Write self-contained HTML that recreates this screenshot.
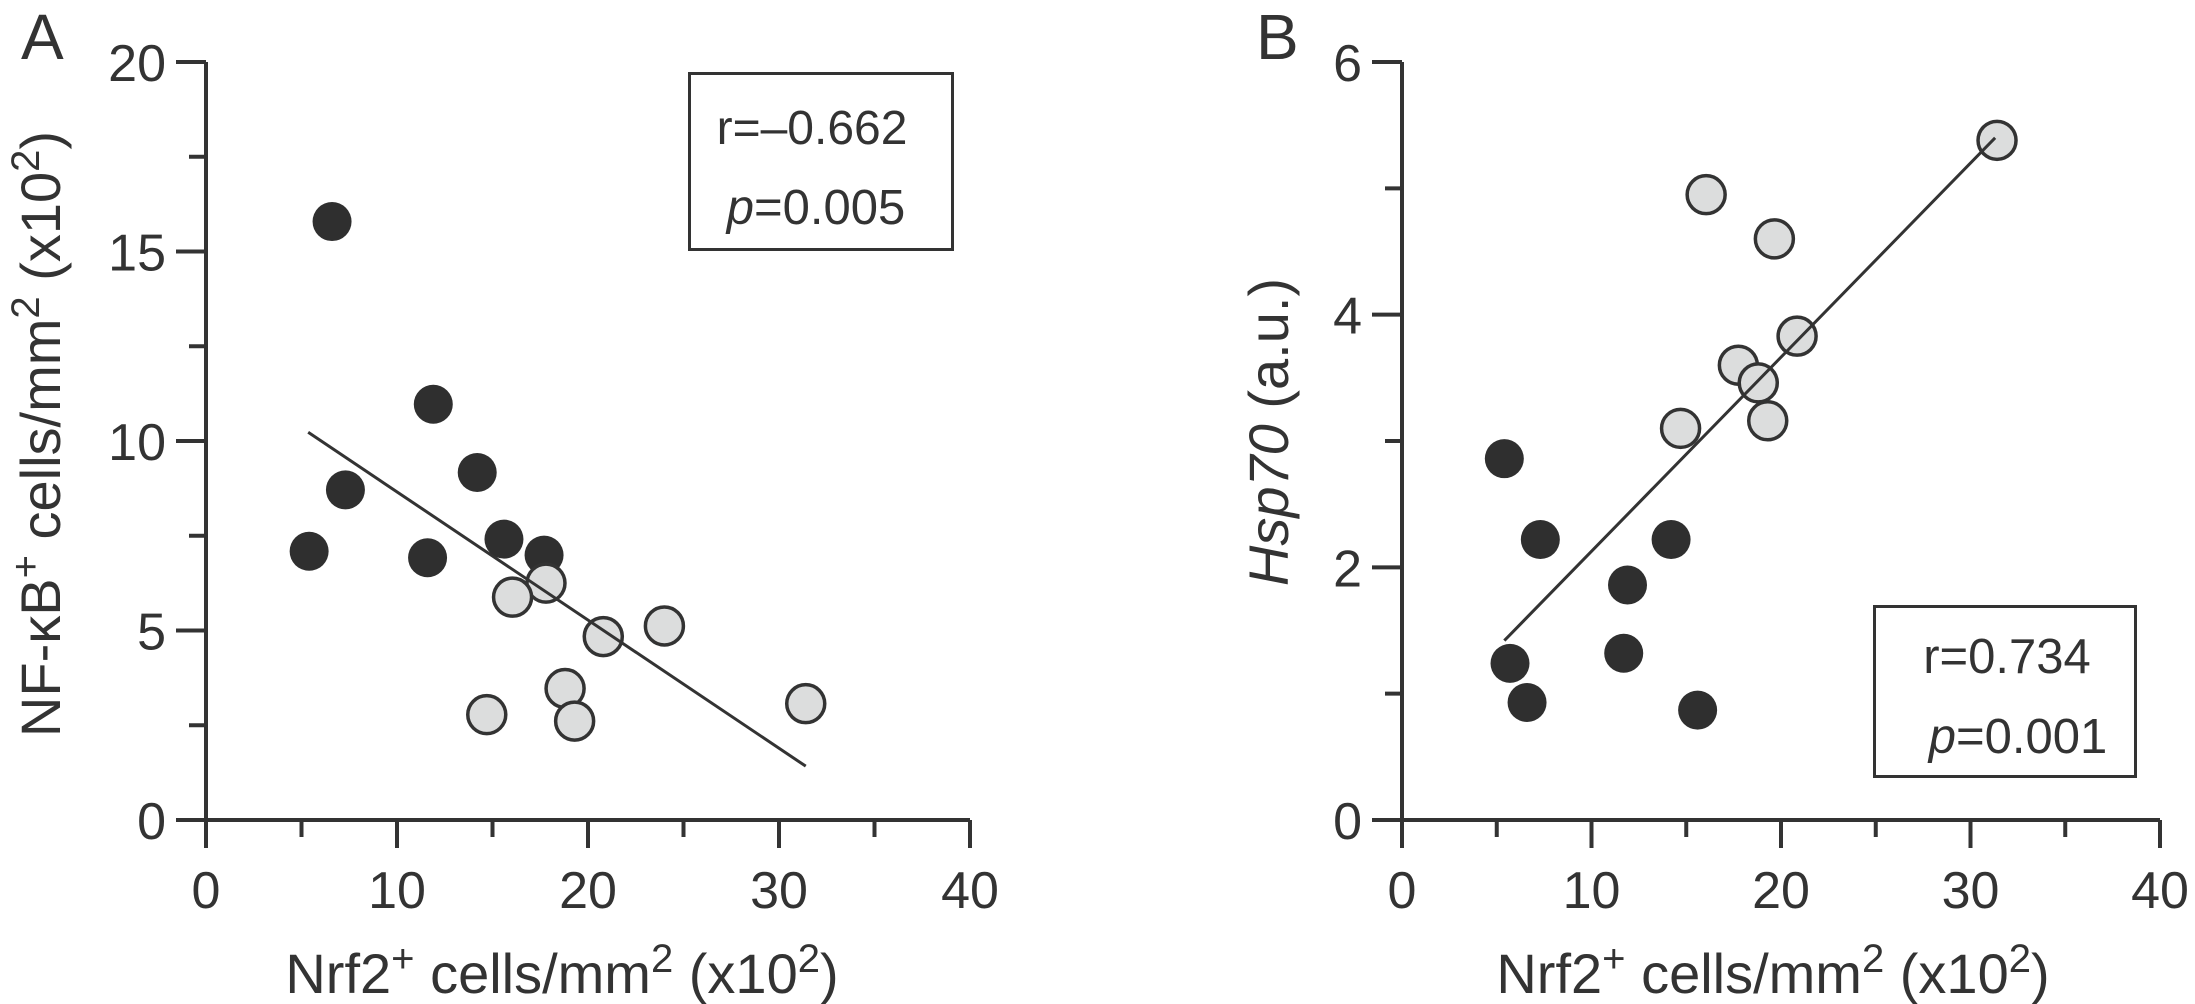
<!DOCTYPE html>
<html lang="en">
<head>
<meta charset="utf-8">
<title>Nrf2 correlation scatter plots</title>
<style>
html,body{margin:0;padding:0;background:#fff;width:2195px;height:1004px;overflow:hidden}
svg{display:block}
text{font-family:"Liberation Sans",Arial,sans-serif;fill:#333;font-size:52px}
</style>
</head>
<body>
<svg id="figure" width="2195" height="1004" viewBox="0 0 2195 1004" xmlns="http://www.w3.org/2000/svg">
  <rect width="2195" height="1004" fill="#fff"/>

  <text x="21" y="59" style="font-size:64px">A</text>
  <text x="1256" y="59" style="font-size:64px">B</text>

  <g id="panel-a"></g>
  <g id="panel-b"></g>

  <text x="562" y="993" text-anchor="middle" style="font-size:56px">Nrf2<tspan dy="-21" style="font-size:40px">+</tspan><tspan dy="21"> cells/mm</tspan><tspan dy="-21" style="font-size:40px">2</tspan><tspan dy="21"> (x10</tspan><tspan dy="-21" style="font-size:40px">2</tspan><tspan dy="21">)</tspan></text>
  <text x="1773" y="993" text-anchor="middle" style="font-size:56px">Nrf2<tspan dy="-21" style="font-size:40px">+</tspan><tspan dy="21"> cells/mm</tspan><tspan dy="-21" style="font-size:40px">2</tspan><tspan dy="21"> (x10</tspan><tspan dy="-21" style="font-size:40px">2</tspan><tspan dy="21">)</tspan></text>

  <text transform="translate(60 434) rotate(-90)" text-anchor="middle" style="font-size:56px">NF-κB<tspan dy="-21" style="font-size:40px">+</tspan><tspan dy="21"> cells/mm</tspan><tspan dy="-21" style="font-size:40px">2</tspan><tspan dy="21"> (x10</tspan><tspan dy="-21" style="font-size:40px">2</tspan><tspan dy="21">)</tspan></text>
  <text transform="translate(1288 432) rotate(-90)" text-anchor="middle" style="font-size:56px"><tspan font-style="italic">Hsp70</tspan> (a.u.)</text>

  <rect x="689.5" y="73.5" width="263" height="176" fill="#fff" stroke="#333" stroke-width="3"/>
  <text x="812" y="144" text-anchor="middle" style="font-size:48px">r=–0.662</text>
  <text x="816" y="224" text-anchor="middle" style="font-size:49px"><tspan font-style="italic">p</tspan>=0.005</text>

  <rect x="1874.5" y="606.5" width="261" height="170" fill="#fff" stroke="#333" stroke-width="3"/>
  <text x="2007" y="673" text-anchor="middle" style="font-size:49px">r=0.734</text>
  <text x="2018" y="753" text-anchor="middle" style="font-size:49px"><tspan font-style="italic">p</tspan>=0.001</text>
</svg>

<script>
const xTickLabels = [0, 10, 20, 30, 40];
const xMinorTicks = [5, 15, 25, 35];

const aYTickLabels = [0, 5, 10, 15, 20];
const aYMinorTicks = [2.5, 7.5, 12.5, 17.5];
const aDarkX = [5.4, 6.6, 7.3, 11.6, 11.9, 14.2, 15.6, 17.7];
const aDarkY = [7.09, 15.79, 8.71, 6.92, 10.97, 9.17, 7.41, 6.99];
const aLightX = [17.8, 16.05, 20.8, 24.0, 18.8, 14.7, 19.3, 31.4];
const aLightY = [6.25, 5.88, 4.84, 5.12, 3.47, 2.78, 2.61, 3.07];
const aFitX = [5.35, 31.4];
const aFitY = [10.23, 1.42];

const bYTickLabels = [0, 2, 4, 6];
const bYMinorTicks = [1, 3, 5];
const bDarkX = [5.4, 7.3, 14.2, 11.9, 11.7, 5.7, 6.6, 15.6];
const bDarkY = [2.86, 2.22, 2.22, 1.86, 1.32, 1.24, 0.93, 0.87];
const bLightX = [31.4, 16.05, 19.65, 20.85, 17.75, 18.8, 19.3, 14.7];
const bLightY = [5.38, 4.95, 4.6, 3.83, 3.6, 3.46, 3.16, 3.1];
const bFitX = [5.4, 31.3];
const bFitY = [1.42, 5.4];

const SVG_NS = 'http://www.w3.org/2000/svg';

function make(parent, tag, attrs) {
  const el = document.createElementNS(SVG_NS, tag);
  for (const k in attrs) el.setAttribute(k, attrs[k]);
  parent.appendChild(el);
  return el;
}

function drawPanel(rootId, frame, yMax, yTicks, yMinor, darkX, darkY, lightX, lightY, fitX, fitY) {
  const root = document.getElementById(rootId);
  const sx = v => frame.x0 + (v / 40) * (frame.x1 - frame.x0);
  const sy = v => frame.y0 - (v / yMax) * (frame.y0 - frame.y1);
  const axisStyle = { stroke: '#333', 'stroke-width': 4, fill: 'none' };

  const yAxis = make(root, 'line', Object.assign({ x1: sx(0), x2: sx(0), y1: sy(0) + 28, y2: sy(yMax) }, axisStyle));
  
  
  const xAxis = make(root, 'line', Object.assign({ x1: sx(0) - 30, x2: sx(40), y1: sy(0), y2: sy(0) }, axisStyle));
  
  

  xTickLabels.forEach(v => {
    const tick = make(root, 'line', Object.assign({ x1: sx(v), x2: sx(v), y1: sy(0), y2: sy(0) + 28 }, axisStyle));
    
    
    const label = make(root, 'text', { x: sx(v), y: sy(0) + 88, 'text-anchor': 'middle' });
    
    
    label.textContent = v;
  });
  xMinorTicks.forEach(v => {
    const tick = make(root, 'line', Object.assign({ x1: sx(v), x2: sx(v), y1: sy(0), y2: sy(0) + 17 }, axisStyle));
    
    
  });
  yTicks.forEach(v => {
    const tick = make(root, 'line', Object.assign({ x1: sx(0) - 30, x2: sx(0), y1: sy(v), y2: sy(v) }, axisStyle));
    
    
    const label = make(root, 'text', { x: sx(0) - 40, y: sy(v) + 19, 'text-anchor': 'end' });
    
    
    label.textContent = v;
  });
  yMinor.forEach(v => {
    const tick = make(root, 'line', Object.assign({ x1: sx(0) - 17, x2: sx(0), y1: sy(v), y2: sy(v) }, axisStyle));
    
    
  });

  darkX.forEach((v, i) => {
    const pt = make(root, 'circle', { cx: sx(v), cy: sy(darkY[i]), r: 19.5, fill: '#2f2f2f' });
    
    
  });
  lightX.forEach((v, i) => {
    const pt = make(root, 'circle', { cx: sx(v), cy: sy(lightY[i]), r: 19, fill: '#dcdddd', stroke: '#333', 'stroke-width': 3.5 });
    
    
  });

  const fit = make(root, 'line', { x1: sx(fitX[0]), y1: sy(fitY[0]), x2: sx(fitX[1]), y2: sy(fitY[1]), stroke: '#333', 'stroke-width': 3 });
  
  
}

drawPanel('panel-a', { x0: 206, x1: 970, y0: 820, y1: 62 }, 20, aYTickLabels, aYMinorTicks, aDarkX, aDarkY, aLightX, aLightY, aFitX, aFitY);
drawPanel('panel-b', { x0: 1402, x1: 2160, y0: 820, y1: 62 }, 6, bYTickLabels, bYMinorTicks, bDarkX, bDarkY, bLightX, bLightY, bFitX, bFitY);
</script>
</body>
</html>
